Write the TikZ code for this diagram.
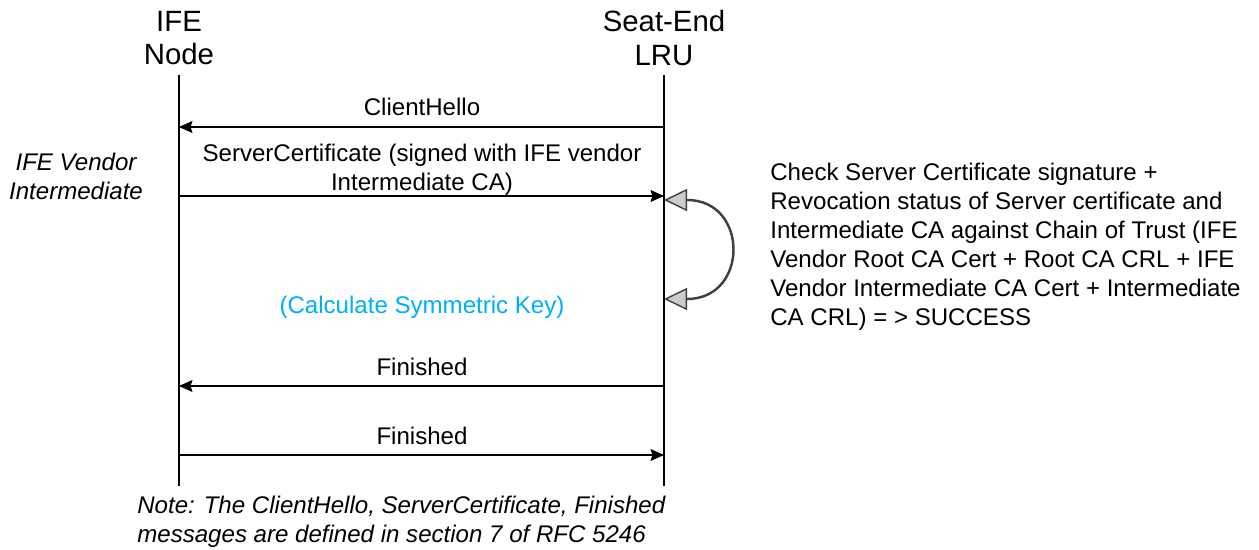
\documentclass[tikz,border=0pt]{standalone}
\usepackage{fontspec}
\setmainfont{Liberation Sans}
\usetikzlibrary{arrows.meta}
\definecolor{calccyan}{RGB}{0,176,240}
\definecolor{loopgray}{RGB}{64,64,64}
\tikzset{
  lifeline/.style={line width=0.6pt},
  msg/.style={line width=0.6pt,-{Stealth[length=0.27cm,width=0.24cm,inset=0.04cm]}},
  msglabel/.style={font=\fontsize{13.7}{16.5}\selectfont,align=center,inner sep=0pt},
  headlabel/.style={font=\fontsize{16.7}{19}\selectfont,align=center,inner sep=0pt},
  selfloop/.style={loopgray,line width=1.4pt,
    {Triangle[length=0.46cm,width=0.44cm,fill=black!20,line width=0.8pt]}-{Triangle[length=0.46cm,width=0.44cm,fill=black!20,line width=0.8pt]}},
}
\begin{document}
\begin{tikzpicture}[x=0.02cm,y=-0.02cm]
\useasboundingbox (0,0) rectangle (1259,550);

% headers
\node[headlabel] (ife) at (179,38) {IFE\\Node};
\node[headlabel] (lru) at (664,38) {Seat-End\\LRU};

% lifelines
\coordinate (ifetop) at (179,75);
\coordinate (ifebot) at (179,486);
\coordinate (lrutop) at (664,75);
\coordinate (lrubot) at (664,486);
\draw[lifeline] (ifetop) -- (ifebot);
\draw[lifeline] (lrutop) -- (lrubot);

% ClientHello
\coordinate (hellostart) at (664,127);
\coordinate (helloend) at (179,127);
\draw[msg] (hellostart) -- (helloend);
\node[msglabel] (hello) at (422,107) {ClientHello};

% ServerCertificate
\coordinate (certstart) at (179,196);
\coordinate (certend) at (664,196);
\draw[msg] (certstart) -- (certend);
\node[msglabel] (cert) at (422,170) {ServerCertificate (signed with IFE vendor\\Intermediate CA)};

\node[msglabel,font=\fontsize{13.7}{16.5}\selectfont\itshape] (vendor) at (76,176) {IFE Vendor\\Intermediate};

% check loop
\coordinate (looptop) at (664,200);
\coordinate (loopbot) at (664,299);
\draw[selfloop] (looptop) -- (687,200) .. controls (749,200) and (749,299) .. (687,299) -- (loopbot);

\node[msglabel,text=calccyan] (calc) at (422,307) {(Calculate Symmetric Key)};

\node[msglabel,align=left,anchor=north west] (check) at (770,163)
  {Check Server Certificate signature +\\
   Revocation status of Server certificate and\\
   Intermediate CA against Chain of Trust (IFE\\
   Vendor Root CA Cert + Root CA CRL + IFE\\
   Vendor Intermediate CA Cert + Intermediate\\
   CA CRL) = > SUCCESS};

% Finished (server)
\coordinate (fin1start) at (664,386);
\coordinate (fin1end) at (179,386);
\draw[msg] (fin1start) -- (fin1end);
\node[msglabel] (fin1) at (422,367) {Finished};

% Finished (client)
\coordinate (fin2start) at (179,455);
\coordinate (fin2end) at (664,455);
\draw[msg] (fin2start) -- (fin2end);
\node[msglabel] (fin2) at (422,436) {Finished};

% note
\node[msglabel,align=left,anchor=north west,font=\fontsize{13.7}{16.5}\selectfont\itshape] (note) at (137,496)
  {Note: The ClientHello, ServerCertificate, Finished\\
   messages are defined in section 7 of RFC 5246};

\end{tikzpicture}
\end{document}
